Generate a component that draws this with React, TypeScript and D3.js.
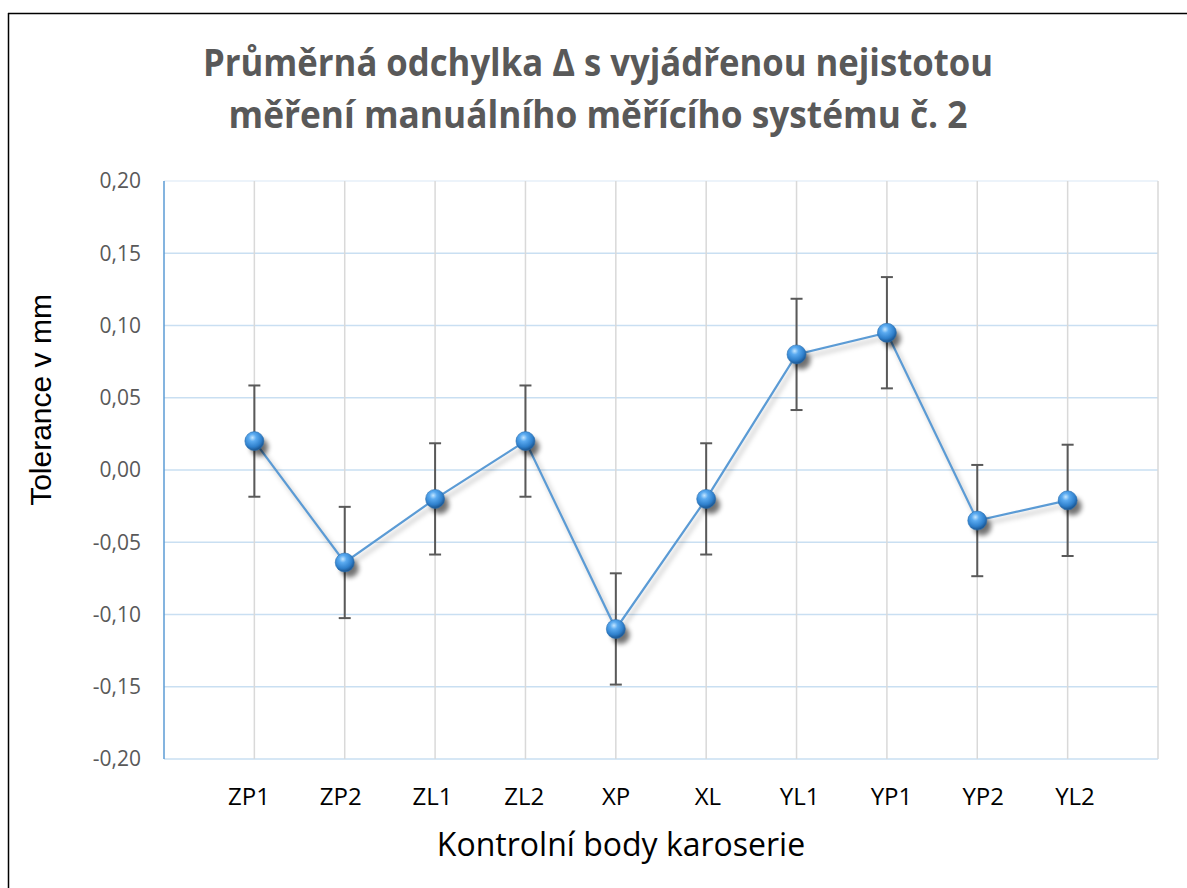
import React from "react";
import * as d3 from "d3";

// data
const categories = ["ZP1", "ZP2", "ZL1", "ZL2", "XP", "XL", "YL1", "YP1", "YP2", "YL2"];
const meanDeviation = [0.02, -0.064, -0.02, 0.02, -0.11, -0.02, 0.08, 0.095, -0.035, -0.021];
const uncertainty = [0.0385, 0.0385, 0.0385, 0.0385, 0.0385, 0.0385, 0.0385, 0.0385, 0.0385, 0.0385];
const yTicks = [-0.2, -0.15, -0.1, -0.05, 0, 0.05, 0.1, 0.15, 0.2];
const titleLines = ["Průměrná odchylka Δ s vyjádřenou nejistotou", "měření manuálního měřícího systému č. 2"];
const xTitle = "Kontrolní body karoserie";
const yTitle = "Tolerance v mm";

const W = 1187;
const H = 888;
const plot = { left: 164, right: 1158, top: 181, bottom: 759 };

export default function App() {
  // points sit on gridlines 1..10 of 11 slots
  const x = d3.scaleLinear().domain([0, categories.length + 1]).range([plot.left, plot.right]);
  const xLabel = d3.scaleLinear().domain([1, categories.length]).range([249, 1075]);
  const y = d3.scaleLinear().domain([-0.2, 0.2]).range([plot.bottom, plot.top]);

  const line = d3
    .line<number>()
    .x((_, i) => x(i + 1))
    .y((d) => y(d));

  const fmt = (v: number) => d3.format(".2f")(v).replace(".", ",").replace("−", "-");
  const vLines = d3.range(1, categories.length + 2);

  return (
    <svg width={W} height={H} style={{ position: "absolute", left: 0, top: 0, background: "#fff" }}>
      <defs>
        <radialGradient id="ball" cx="40%" cy="32%" r="65%">
          <stop offset="0%" stopColor="#c4e6ff" />
          <stop offset="30%" stopColor="#5aaaf0" />
          <stop offset="75%" stopColor="#2f80cc" />
          <stop offset="100%" stopColor="#1d5a97" />
        </radialGradient>
        <filter id="shadow" x="-50%" y="-50%" width="200%" height="200%">
          <feGaussianBlur stdDeviation="2.5" />
        </filter>
      </defs>

      {/* outer frame (left and top edge visible) */}
      <line x1={8.5} x2={8.5} y1={13} y2={H} stroke="#000" strokeWidth={1.5} />
      <line x1={8} x2={W} y1={13.5} y2={13.5} stroke="#000" strokeWidth={1.5} />

      {/* title */}
      {titleLines.map((t, i) => (
        <text
          key={t}
          x={598}
          y={76 + i * 52}
          textAnchor="middle"
          fontFamily="'Open Sans', sans-serif"
          fontWeight="bold"
          fontSize={37}
          fill="#595959"
          textLength={i === 0 ? 790 : 739}
          lengthAdjust="spacingAndGlyphs"
        >
          {t}
        </text>
      ))}

      {/* horizontal gridlines */}
      {yTicks.map((t) => (
        <line
          key={`h${t}`}
          x1={plot.left}
          x2={plot.right}
          y1={y(t)}
          y2={y(t)}
          stroke={t === 0.2 ? "#e6eff8" : "#c9dff2"}
          strokeWidth={1.5}
        />
      ))}

      {/* vertical gridlines */}
      {vLines.map((v) => (
        <line key={`v${v}`} x1={x(v)} x2={x(v)} y1={plot.top} y2={plot.bottom} stroke="#d9d9d9" strokeWidth={1.5} />
      ))}

      {/* y axis line */}
      <line x1={plot.left} x2={plot.left} y1={plot.top} y2={plot.bottom} stroke="#5b9bd5" strokeWidth={1.5} />

      {/* y tick labels */}
      {yTicks.map((t) => (
        <text
          key={`yt${t}`}
          x={141}
          y={y(t)}
          dy="0.35em"
          textAnchor="end"
          fontFamily="'Open Sans', sans-serif"
          fontSize={21}
          fill="#595959"
        >
          {fmt(t)}
        </text>
      ))}

      {/* x labels */}
      {categories.map((c, i) => (
        <text
          key={c}
          x={xLabel(i + 1)}
          y={805}
          textAnchor="middle"
          fontFamily="'Open Sans', sans-serif"
          fontSize={24}
          fill="#000"
        >
          {c}
        </text>
      ))}

      {/* axis titles */}
      <text x={621} y={856} textAnchor="middle" fontFamily="'Open Sans', sans-serif" fontSize={32} fill="#000">
        {xTitle}
      </text>
      <text
        transform={`translate(51,400) rotate(-90)`}
        textAnchor="middle"
        fontFamily="'Liberation Sans', Arial, sans-serif"
        fontSize={30}
        fill="#000"
      >
        {yTitle}
      </text>

      {/* error bars */}
      {meanDeviation.map((d, i) => {
        const cx = x(i + 1);
        const hi = y(d + uncertainty[i]);
        const lo = y(d - uncertainty[i]);
        return (
          <g key={`e${i}`} stroke="#595959" strokeWidth={2}>
            <line x1={cx} x2={cx} y1={hi} y2={lo} />
            <line x1={cx - 6} x2={cx + 6} y1={hi} y2={hi} />
            <line x1={cx - 6} x2={cx + 6} y1={lo} y2={lo} />
          </g>
        );
      })}

      {/* line shadow */}
      <path
        d={line(meanDeviation) ?? ""}
        fill="none"
        stroke="#000"
        strokeOpacity={0.25}
        strokeWidth={2.5}
        transform="translate(3,4)"
        filter="url(#shadow)"
      />
      <path d={line(meanDeviation) ?? ""} fill="none" stroke="#5b9bd5" strokeWidth={2.2} />

      {/* markers */}
      {meanDeviation.map((d, i) => (
        <g key={`m${i}`}>
          <circle cx={x(i + 1) + 5} cy={y(d) + 6} r={9} fill="#000" opacity={0.55} filter="url(#shadow)" />
          <circle cx={x(i + 1)} cy={y(d)} r={9.5} fill="url(#ball)" stroke="#2a6fb0" strokeWidth={0.6} />
        </g>
      ))}
    </svg>
  );
}
